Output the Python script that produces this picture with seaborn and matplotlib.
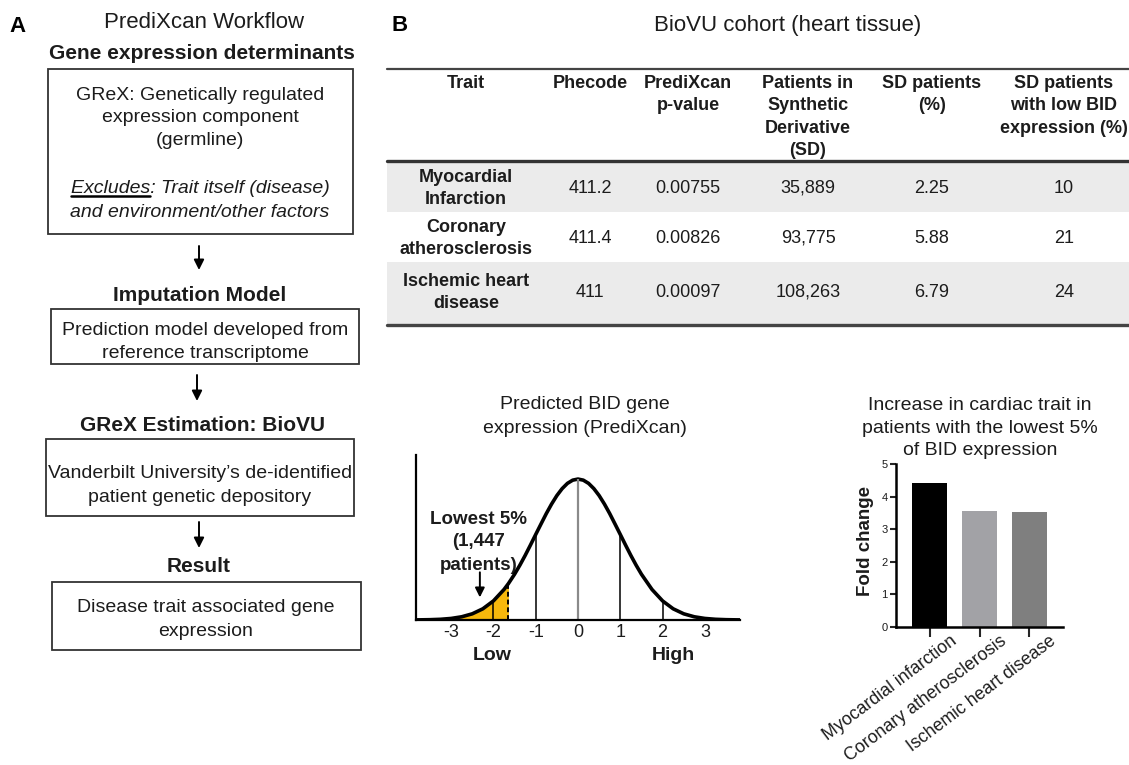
import numpy as np
import pandas as pd
import matplotlib
matplotlib.use("Agg")
import matplotlib.pyplot as plt
import seaborn as sns
from matplotlib.patches import Rectangle
from matplotlib.transforms import ScaledTranslation

# ---------------- data ----------------
workflow_title = "PrediXcan Workflow"
step_headings = ["Gene expression determinants", "Imputation Model",
                 "GReX Estimation: BioVU", "Result"]
step_texts = [
    ["GReX: Genetically regulated", "expression component", "(germline)"],
    ["Prediction model developed from", "reference transcriptome"],
    ["Vanderbilt University\u2019s de-identified", "patient genetic depository"],
    ["Disease trait associated gene", "expression"],
]
excludes_lines = ["Excludes: Trait itself (disease)", "and environment/other factors"]

table_title = "BioVU cohort (heart tissue)"
table_headers = [["Trait"], ["Phecode"], ["PrediXcan", "p-value"],
                 ["Patients in", "Synthetic", "Derivative", "(SD)"],
                 ["SD patients", "(%)"],
                 ["SD patients", "with low BID", "expression (%)"]]
traits = [["Myocardial", "Infarction"], ["Coronary", "atherosclerosis"],
          ["Ischemic heart", "disease"]]
phecodes = ["411.2", "411.4", "411"]
pvalues = ["0.00755", "0.00826", "0.00097"]
patients_sd = ["35,889", "93,775", "108,263"]
sd_pct = ["2.25", "5.88", "6.79"]
low_bid_pct = ["10", "21", "24"]

curve_x = [-3.83, -3.75, -3.5, -3.25, -3.0, -2.75, -2.5, -2.25, -2.0, -1.75, -1.645,
           -1.5, -1.375, -1.25, -1.125, -1.0, -0.875, -0.75, -0.625, -0.5, -0.375,
           -0.25, -0.125, 0.0, 0.125, 0.25, 0.375, 0.5, 0.625, 0.75, 0.875, 1.0,
           1.125, 1.25, 1.375, 1.5, 1.75, 2.0, 2.25, 2.5, 2.75, 3.0, 3.25, 3.5,
           3.75, 3.83]
curve_y = [0.0003, 0.0004, 0.0009, 0.0020, 0.0044, 0.0091, 0.0175, 0.0317, 0.0540,
           0.0863, 0.1031, 0.1295, 0.1550, 0.1826, 0.2119, 0.2420, 0.2717, 0.3011,
           0.3281, 0.3521, 0.3718, 0.3867, 0.3958, 0.3989, 0.3958, 0.3867, 0.3718,
           0.3521, 0.3281, 0.3011, 0.2717, 0.2420, 0.2119, 0.1826, 0.1550, 0.1295,
           0.0863, 0.0540, 0.0317, 0.0175, 0.0091, 0.0044, 0.0020, 0.0009, 0.0004,
           0.0003]
guide_x = [-2.0, -1.0, 0.0, 1.0, 2.0]
cutoff_x = -1.645
curve_ticks = [-3, -2, -1, 0, 1, 2, 3]
curve_ticklabels = ["-3", "-2", "-1", "0", "1", "2", "3"]
lowest_label = ["Lowest 5%", "(1,447", "patients)"]

bar_labels = ["Myocardial infarction", "Coronary atherosclerosis", "Ischemic heart disease"]
fold_change = [4.42, 3.56, 3.52]
bar_colors = ["#000000", "#a2a2a6", "#7f7f7f"]
bar_title = ["Increase in cardiac trait in", "patients with the lowest 5%", "of BID expression"]
curve_title = ["Predicted BID gene", "expression (PrediXcan)"]

# ---------------- setup ----------------
sns.set_style("white")
plt.rcParams["font.family"] = ["Liberation Sans", "DejaVu Sans"]
TXT = "#1c1c1c"

W, H = 1129, 765
fig = plt.figure(figsize=(W / 100, H / 100), dpi=100)
ax0 = fig.add_axes([0, 0, 1, 1])
ax0.set_xlim(0, W)
ax0.set_ylim(H, 0)
ax0.axis("off")


def lines_at(x, ys, lines, **kw):
    for yy, ln in zip(ys, lines):
        ax0.text(x, yy, ln, ha="center", va="center", color=TXT, **kw)


def box(x0, y0, x1, y1):
    ax0.add_patch(Rectangle((x0, y0), x1 - x0, y1 - y0, fill=False,
                            ec="#333333", lw=1.3))


def arrow(x, y0, y1):
    ax0.annotate("", xy=(x, y1), xytext=(x, y0),
                 arrowprops=dict(arrowstyle="-|>", color="black", lw=1.4,
                                 mutation_scale=15, shrinkA=0, shrinkB=0))


# ---------------- panel A ----------------
ax0.text(18, 26, "A", fontsize=16, fontweight="bold", ha="center", va="center", color="black")
lines_at(204, [22], [workflow_title], fontsize=16)
lines_at(202, [53], [step_headings[0]], fontsize=15, fontweight="bold")
box(48, 69, 353, 234)
lines_at(200, [95, 117, 140], step_texts[0], fontsize=14)
t_ex = ax0.text(200, 188, excludes_lines[0], ha="center", va="center",
                fontsize=14, style="italic", color=TXT)
lines_at(200, [212], [excludes_lines[1]], fontsize=14, style="italic")
arrow(199, 246, 270)
lines_at(200, [295], [step_headings[1]], fontsize=15, fontweight="bold")
box(51, 309, 359, 364)
lines_at(205, [330, 353], step_texts[1], fontsize=14)
arrow(197, 375, 401)
lines_at(202, [425], [step_headings[2]], fontsize=15, fontweight="bold")
box(46, 439, 354, 516)
lines_at(200, [473, 497], step_texts[2], fontsize=14)
arrow(199, 522, 548)
lines_at(199, [567], [step_headings[3]], fontsize=15, fontweight="bold")
box(52, 582, 361, 650)
lines_at(206, [608, 632], step_texts[3], fontsize=14)

# underline "Excludes"
renderer = fig.canvas.get_renderer()
bb = t_ex.get_window_extent(renderer)
tmp = ax0.text(0, 0, "Excludes", fontsize=14, style="italic")
wex = tmp.get_window_extent(renderer).width
tmp.remove()
ax0.plot([bb.x0, bb.x0 + wex], [H - bb.y0 - 1, H - bb.y0 - 1], color="black", lw=1.8)

# ---------------- panel B: table ----------------
ax0.text(400, 25, "B", fontsize=16, fontweight="bold", ha="center", va="center", color="black")
lines_at(788, [25], [table_title], fontsize=16)

col_x = [466, 590, 688, 808, 932, 1064]
bands = [(162, 212, "#ebebeb"), (212, 262, "#ffffff"), (262, 324, "#ebebeb")]
for y0, y1, c in bands:
    ax0.add_patch(Rectangle((387, y0), W - 387, y1 - y0, fc=c, ec="none"))
ax0.plot([387, W], [69, 69], color="#444444", lw=1.6)
ax0.plot([387, W], [161, 161], color="#333333", lw=2.4)
ax0.plot([387, W], [325, 325], color="#444444", lw=2.4)

TFS = 13
for cx, hdr in zip(col_x, table_headers):
    lines_at(cx, [83 + 22.5 * i for i in range(len(hdr))], hdr,
             fontsize=TFS, fontweight="bold")

row_y = [188, 238, 292]
for i, ry in enumerate(row_y):
    lines_at(col_x[0], [ry - 11, ry + 11], traits[i], fontsize=TFS, fontweight="bold")
    vals = [phecodes[i], pvalues[i], patients_sd[i], sd_pct[i], low_bid_pct[i]]
    for cx, v in zip(col_x[1:], vals):
        lines_at(cx, [ry], [v], fontsize=TFS)

# ---------------- normal curve ----------------
axc = fig.add_axes([416 / W, 1 - 620 / H, 324 / W, 165 / H])
axc.patch.set_alpha(0)
curve_df = pd.DataFrame({"x": curve_x, "y": curve_y})
sns.lineplot(data=curve_df, x="x", y="y", ax=axc, color="black", lw=2.6,
             solid_capstyle="round")
height = dict(zip(curve_x, curve_y))
tail = curve_df[curve_df["x"] <= cutoff_x]
axc.fill_between(tail["x"], 0, tail["y"], color="#F7B80C", lw=0, zorder=1)
axc.vlines([g for g in guide_x if g != 0], 0, [height[g] for g in guide_x if g != 0],
           color="black", lw=1.1, zorder=2)
axc.vlines([0.0], 0, [height[0.0]], color="#8a8a8a", lw=1.6, zorder=2)
axc.vlines([cutoff_x], 0, [height[cutoff_x]], color="black", lw=1.4,
           linestyles=(0, (2.5, 1.5)), zorder=2)
axc.set_xlim(-3.83, 3.83)
axc.set_ylim(0, 0.467)
axc.set_xticks(curve_ticks)
axc.set_xticklabels(curve_ticklabels)
axc.set_yticks([])
axc.tick_params(axis="x", length=0, pad=3, labelsize=13, labelcolor=TXT)
axc.set_xlabel("")
axc.set_ylabel("")
for s in ["top", "right"]:
    axc.spines[s].set_visible(False)
for s in ["left", "bottom"]:
    axc.spines[s].set_color("black")
    axc.spines[s].set_linewidth(1.6)
axc.annotate("", xy=(-2.32, 0.064), xytext=(-2.32, 0.135),
             arrowprops=dict(arrowstyle="-|>", color="black", lw=1.4,
                             mutation_scale=14, shrinkA=0, shrinkB=0))
lines_at(479, [520, 542, 565], lowest_label, fontsize=13.5, fontweight="bold")
lines_at(492, [655], ["Low"], fontsize=14, fontweight="bold")
lines_at(673, [655], ["High"], fontsize=14, fontweight="bold")
lines_at(585, [404, 428], curve_title, fontsize=14)

# ---------------- bar chart ----------------
axb = fig.add_axes([896 / W, 1 - 627 / H, 167 / W, 163 / H])
axb.patch.set_alpha(0)
bar_df = pd.DataFrame({"trait": bar_labels, "fc": fold_change})
sns.barplot(data=bar_df, x="trait", y="fc", hue="trait", palette=bar_colors,
            saturation=1, width=0.7, legend=False, ax=axb, linewidth=0)
axb.set_xlim(-0.68, 2.68)
axb.set_ylim(0, 5)
axb.set_yticks(range(6))
axb.set_xticks(range(len(bar_labels)))
axb.set_xticklabels(bar_labels, rotation=37, ha="right", va="top",
                    rotation_mode="anchor", fontsize=12.8, color=TXT)
axb.tick_params(axis="y", length=4, width=1.5, pad=2, labelsize=8, labelcolor=TXT,
                left=True)
axb.tick_params(axis="x", length=7, width=1.5, pad=0, bottom=True)
for lbl in axb.get_xticklabels():
    lbl.set_transform(lbl.get_transform() + ScaledTranslation(0.2, 0.04, fig.dpi_scale_trans))
axb.set_xlabel("")
axb.set_ylabel("Fold change", fontsize=13.5, fontweight="bold", color=TXT)
axb.yaxis.set_label_coords(-0.13, 0.53)
for s in ["top", "right"]:
    axb.spines[s].set_visible(False)
for s in ["left", "bottom"]:
    axb.spines[s].set_color("black")
    axb.spines[s].set_linewidth(1.8)
lines_at(980, [405, 428, 450], bar_title, fontsize=14)

fig.savefig("out.png", dpi=100)
